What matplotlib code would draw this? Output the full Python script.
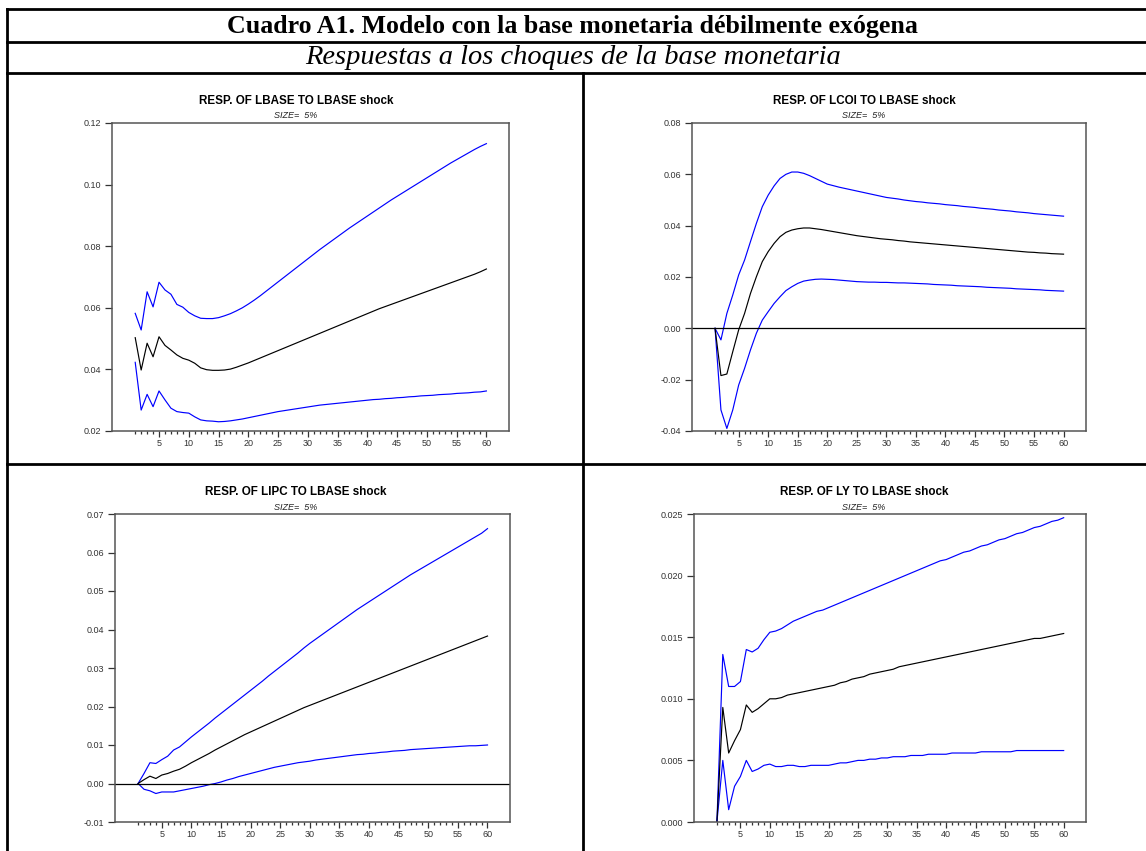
import matplotlib.pyplot as plt
from matplotlib.lines import Line2D
from matplotlib.ticker import MultipleLocator, FormatStrFormatter

W, H = 1146, 851

steps = list(range(1, 61))

lbase_mid = [0.0503, 0.0398, 0.0485, 0.0441, 0.0506, 0.0478, 0.0463, 0.0447, 0.0436, 0.0430,
             0.0420, 0.0405, 0.0399, 0.0397, 0.0397, 0.0398, 0.0401, 0.0407, 0.0414, 0.0421,
             0.0429, 0.0437, 0.0445, 0.0453, 0.0461, 0.0469, 0.0477, 0.0485, 0.0493, 0.0501,
             0.0509, 0.0517, 0.0525, 0.0533, 0.0541, 0.0549, 0.0557, 0.0565, 0.0573, 0.0581,
             0.0589, 0.0597, 0.0604, 0.0611, 0.0618, 0.0625, 0.0632, 0.0639, 0.0646, 0.0653,
             0.0660, 0.0667, 0.0674, 0.0681, 0.0688, 0.0695, 0.0702, 0.0709, 0.0717, 0.0726]
lbase_up = [0.0582, 0.0528, 0.0652, 0.0603, 0.0683, 0.0658, 0.0644, 0.0611, 0.0602, 0.0585,
            0.0574, 0.0566, 0.0565, 0.0565, 0.0568, 0.0574, 0.0581, 0.0590, 0.0600, 0.0612,
            0.0625, 0.0639, 0.0654, 0.0669, 0.0684, 0.0699, 0.0714, 0.0729, 0.0744, 0.0759,
            0.0774, 0.0789, 0.0803, 0.0817, 0.0831, 0.0845, 0.0859, 0.0872, 0.0885, 0.0898,
            0.0911, 0.0924, 0.0937, 0.0950, 0.0962, 0.0974, 0.0986, 0.0998, 0.1010, 0.1022,
            0.1034, 0.1046, 0.1058, 0.1070, 0.1081, 0.1092, 0.1103, 0.1114, 0.1124, 0.1133]
lbase_lo = [0.0423, 0.0268, 0.0319, 0.0279, 0.0330, 0.0301, 0.0274, 0.0263, 0.0260, 0.0258,
            0.0246, 0.0236, 0.0233, 0.0232, 0.0230, 0.0231, 0.0233, 0.0236, 0.0239, 0.0243,
            0.0247, 0.0251, 0.0255, 0.0259, 0.0263, 0.0266, 0.0269, 0.0272, 0.0275, 0.0278,
            0.0281, 0.0284, 0.0286, 0.0288, 0.0290, 0.0292, 0.0294, 0.0296, 0.0298, 0.0300,
            0.0302, 0.0303, 0.0305, 0.0306, 0.0308, 0.0309, 0.0311, 0.0312, 0.0314, 0.0315,
            0.0316, 0.0318, 0.0319, 0.0320, 0.0322, 0.0323, 0.0324, 0.0326, 0.0327, 0.0330]

lcoi_mid = [0.0, -0.0184, -0.0178, -0.0091, -0.0006, 0.0058, 0.0136, 0.0201, 0.0260, 0.0299,
            0.0331, 0.0357, 0.0374, 0.0383, 0.0388, 0.0391, 0.0391, 0.0388, 0.0385, 0.0381,
            0.0377, 0.0373, 0.0369, 0.0365, 0.0361, 0.0358, 0.0355, 0.0352, 0.0349, 0.0347,
            0.0345, 0.0342, 0.0340, 0.0337, 0.0335, 0.0333, 0.0331, 0.0329, 0.0327, 0.0325,
            0.0323, 0.0321, 0.0319, 0.0317, 0.0315, 0.0313, 0.0311, 0.0309, 0.0307, 0.0305,
            0.0303, 0.0301, 0.0299, 0.0297, 0.0296, 0.0294, 0.0293, 0.0291, 0.0290, 0.0289]
lcoi_up = [0.0, -0.0045, 0.0058, 0.0130, 0.0208, 0.0266, 0.0338, 0.0409, 0.0474, 0.0519,
           0.0555, 0.0584, 0.0600, 0.0609, 0.0609, 0.0604, 0.0595, 0.0584, 0.0573, 0.0562,
           0.0556, 0.0550, 0.0545, 0.0540, 0.0535, 0.0530, 0.0525, 0.0520, 0.0515, 0.0510,
           0.0507, 0.0504, 0.0500, 0.0497, 0.0494, 0.0492, 0.0489, 0.0487, 0.0485, 0.0482,
           0.0480, 0.0478, 0.0475, 0.0473, 0.0471, 0.0468, 0.0466, 0.0464, 0.0461, 0.0459,
           0.0457, 0.0454, 0.0452, 0.0450, 0.0447, 0.0445, 0.0443, 0.0441, 0.0439, 0.0437]
lcoi_lo = [0.0, -0.0318, -0.0390, -0.0318, -0.0221, -0.0156, -0.0084, -0.0019, 0.0032, 0.0065,
           0.0097, 0.0123, 0.0147, 0.0162, 0.0175, 0.0184, 0.0188, 0.0191, 0.0192, 0.0191,
           0.0190, 0.0188, 0.0186, 0.0184, 0.0182, 0.0181, 0.0180, 0.0180, 0.0179, 0.0179,
           0.0178, 0.0177, 0.0177, 0.0176, 0.0175, 0.0174, 0.0173, 0.0171, 0.0170, 0.0169,
           0.0168, 0.0166, 0.0165, 0.0164, 0.0163, 0.0162, 0.0160, 0.0159, 0.0158, 0.0157,
           0.0156, 0.0154, 0.0153, 0.0152, 0.0151, 0.0150, 0.0148, 0.0147, 0.0146, 0.0145]

lipc_mid = [0.0, 0.0010, 0.0019, 0.0013, 0.0022, 0.0026, 0.0032, 0.0037, 0.0045, 0.0054,
            0.0062, 0.0070, 0.0078, 0.0087, 0.0095, 0.0103, 0.0111, 0.0119, 0.0127, 0.0134,
            0.0141, 0.0148, 0.0155, 0.0162, 0.0169, 0.0176, 0.0183, 0.0190, 0.0197, 0.0203,
            0.0209, 0.0215, 0.0221, 0.0227, 0.0233, 0.0239, 0.0245, 0.0251, 0.0257, 0.0263,
            0.0269, 0.0275, 0.0281, 0.0287, 0.0293, 0.0299, 0.0305, 0.0311, 0.0317, 0.0323,
            0.0329, 0.0335, 0.0341, 0.0347, 0.0353, 0.0359, 0.0365, 0.0371, 0.0377, 0.0383]
lipc_up = [0.0, 0.0026, 0.0054, 0.0052, 0.0062, 0.0071, 0.0087, 0.0095, 0.0108, 0.0121,
           0.0133, 0.0145, 0.0157, 0.0170, 0.0182, 0.0194, 0.0206, 0.0218, 0.0230, 0.0242,
           0.0254, 0.0266, 0.0279, 0.0291, 0.0303, 0.0315, 0.0327, 0.0339, 0.0352, 0.0364,
           0.0375, 0.0386, 0.0397, 0.0408, 0.0419, 0.0430, 0.0441, 0.0452, 0.0462, 0.0472,
           0.0482, 0.0492, 0.0502, 0.0512, 0.0522, 0.0532, 0.0542, 0.0551, 0.0560, 0.0569,
           0.0578, 0.0587, 0.0596, 0.0605, 0.0614, 0.0623, 0.0632, 0.0641, 0.0650, 0.0662]
lipc_lo = [0.0, -0.0015, -0.0019, -0.0026, -0.0022, -0.0022, -0.0022, -0.0019, -0.0016, -0.0013,
           -0.0010, -0.0007, -0.0003, 0.0000, 0.0004, 0.0009, 0.0013, 0.0018, 0.0022, 0.0026,
           0.0030, 0.0034, 0.0038, 0.0042, 0.0045, 0.0048, 0.0051, 0.0054, 0.0056, 0.0058,
           0.0061, 0.0063, 0.0065, 0.0067, 0.0069, 0.0071, 0.0073, 0.0075, 0.0076, 0.0078,
           0.0079, 0.0081, 0.0082, 0.0084, 0.0085, 0.0086, 0.0088, 0.0089, 0.0090, 0.0091,
           0.0092, 0.0093, 0.0094, 0.0095, 0.0096, 0.0097, 0.0098, 0.0098, 0.0099, 0.0100]

ly_mid = [0.0, 0.0093, 0.0056, 0.0066, 0.0075, 0.0095, 0.0089, 0.0092, 0.0096, 0.0100,
          0.0100, 0.0101, 0.0103, 0.0104, 0.0105, 0.0106, 0.0107, 0.0108, 0.0109, 0.0110,
          0.0111, 0.0113, 0.0114, 0.0116, 0.0117, 0.0118, 0.0120, 0.0121, 0.0122, 0.0123,
          0.0124, 0.0126, 0.0127, 0.0128, 0.0129, 0.0130, 0.0131, 0.0132, 0.0133, 0.0134,
          0.0135, 0.0136, 0.0137, 0.0138, 0.0139, 0.0140, 0.0141, 0.0142, 0.0143, 0.0144,
          0.0145, 0.0146, 0.0147, 0.0148, 0.0149, 0.0149, 0.0150, 0.0151, 0.0152, 0.0153]
ly_up = [0.0, 0.0136, 0.0110, 0.0110, 0.0114, 0.0140, 0.0138, 0.0141, 0.0148, 0.0154,
         0.0155, 0.0157, 0.0160, 0.0163, 0.0165, 0.0167, 0.0169, 0.0171, 0.0172, 0.0174,
         0.0176, 0.0178, 0.0180, 0.0182, 0.0184, 0.0186, 0.0188, 0.0190, 0.0192, 0.0194,
         0.0196, 0.0198, 0.0200, 0.0202, 0.0204, 0.0206, 0.0208, 0.0210, 0.0212, 0.0213,
         0.0215, 0.0217, 0.0219, 0.0220, 0.0222, 0.0224, 0.0225, 0.0227, 0.0229, 0.0230,
         0.0232, 0.0234, 0.0235, 0.0237, 0.0239, 0.0240, 0.0242, 0.0244, 0.0245, 0.0247]
ly_lo = [0.0, 0.0050, 0.0010, 0.0029, 0.0037, 0.0050, 0.0041, 0.0043, 0.0046, 0.0047,
         0.0045, 0.0045, 0.0046, 0.0046, 0.0045, 0.0045, 0.0046, 0.0046, 0.0046, 0.0046,
         0.0047, 0.0048, 0.0048, 0.0049, 0.0050, 0.0050, 0.0051, 0.0051, 0.0052, 0.0052,
         0.0053, 0.0053, 0.0053, 0.0054, 0.0054, 0.0054, 0.0055, 0.0055, 0.0055, 0.0055,
         0.0056, 0.0056, 0.0056, 0.0056, 0.0056, 0.0057, 0.0057, 0.0057, 0.0057, 0.0057,
         0.0057, 0.0058, 0.0058, 0.0058, 0.0058, 0.0058, 0.0058, 0.0058, 0.0058, 0.0058]

panel_titles = ["RESP. OF LBASE TO LBASE shock", "RESP. OF LCOI TO LBASE shock",
                "RESP. OF LIPC TO LBASE shock", "RESP. OF LY TO LBASE shock"]
y_ranges = [(0.02, 0.12, 0.02, "%.2f"), (-0.04, 0.08, 0.02, "%.2f"),
            (-0.01, 0.07, 0.01, "%.2f"), (0.0, 0.025, 0.005, "%.3f")]
zero_line = [False, True, True, False]

# pixel boxes: left, right, top, bottom
boxes = [(112, 509, 123, 431), (692, 1086, 123, 431),
         (115, 510, 514, 822), (694, 1086, 514, 822)]
title_pos = [(296, 101), (864, 101), (296, 492), (864, 492)]

series = [(lbase_lo, lbase_mid, lbase_up), (lcoi_lo, lcoi_mid, lcoi_up),
          (lipc_lo, lipc_mid, lipc_up), (ly_lo, ly_mid, ly_up)]

plt.rcParams['font.family'] = ['Liberation Sans', 'DejaVu Sans']

fig = plt.figure(figsize=(W / 100, H / 100), dpi=100)

for i in range(4):
    l, r, t, b = boxes[i]
    ax = fig.add_axes([l / W, 1 - b / H, (r - l) / W, (b - t) / H])
    lo, mid, up = series[i]
    ax.plot(steps, up, color="#0000ff", lw=0.85)
    ax.plot(steps, lo, color="#0000ff", lw=0.85)
    ax.plot(steps, mid, color="black", lw=0.85)
    if zero_line[i]:
        ax.axhline(0, color="black", lw=0.9)
    ymin, ymax, ystep, fmt = y_ranges[i]
    ax.set_ylim(ymin, ymax)
    ax.set_xlim(-2.9, 63.8)
    ax.yaxis.set_major_locator(MultipleLocator(ystep))
    ax.yaxis.set_major_formatter(FormatStrFormatter(fmt))
    ax.set_xticks(range(5, 61, 5))
    ax.set_xticks(range(1, 61), minor=True)
    ax.tick_params(axis="y", which="major", direction="out", length=5, width=0.9,
                   labelsize=6.5, colors="#333333", pad=3)
    ax.tick_params(axis="x", which="major", direction="out", length=4.5, width=0.9,
                   labelsize=6.5, colors="#333333", pad=1)
    ax.tick_params(axis="x", which="minor", direction="out", length=2.5, width=0.9,
                   colors="#333333")
    ax.tick_params(axis="y", which="minor", left=False)
    for s in ax.spines.values():
        s.set_color("#555555")
        s.set_linewidth(1.1)
    tx, ty = title_pos[i]
    fig.text(tx / W, 1 - ty / H, panel_titles[i], ha="center", va="center",
             fontsize=8.4, fontweight="bold")
    fig.text(tx / W, 1 - (ty + 15) / H, "SIZE=  5%", ha="center", va="center",
             fontsize=6.5, style="italic", color="#222222")

# table frame
lw = 2.0
def hline(y, x0=7, x1=W):
    fig.add_artist(Line2D([x0 / W, x1 / W], [1 - y / H, 1 - y / H], color="black", lw=lw))

def vline(x, y0, y1):
    fig.add_artist(Line2D([x / W, x / W], [1 - y0 / H, 1 - y1 / H], color="black", lw=lw))

for y in (9, 42, 73, 464):
    hline(y)
vline(7, 9, H)
vline(583, 73, H)

fig.text(572 / W, 1 - 27 / H, "Cuadro A1. Modelo con la base monetaria débilmente exógena",
         ha="center", va="center", fontsize=18.6, fontweight="bold",
         family=["Liberation Serif", "DejaVu Serif"])
fig.text(573 / W, 1 - 58 / H, "Respuestas a los choques de la base monetaria",
         ha="center", va="center", fontsize=20.5, style="italic",
         family=["Liberation Serif", "DejaVu Serif"])

fig.savefig("out.png", dpi=100)
